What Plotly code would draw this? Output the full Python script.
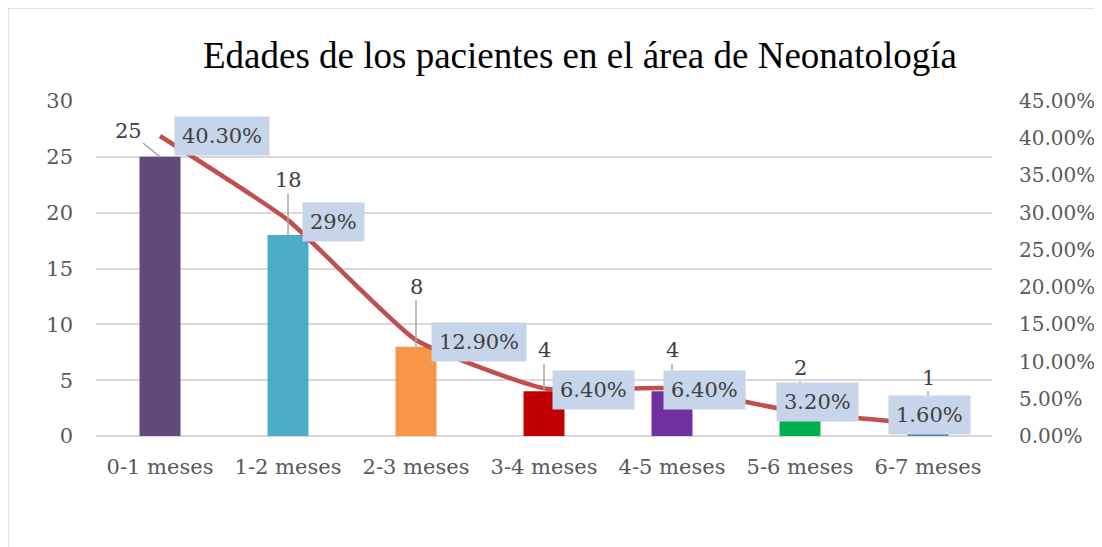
import plotly.graph_objects as go

categories = ["0-1 meses", "1-2 meses", "2-3 meses", "3-4 meses", "4-5 meses", "5-6 meses", "6-7 meses"]
counts = [25, 18, 8, 4, 4, 2, 1]
percents = [0.403, 0.29, 0.129, 0.064, 0.064, 0.032, 0.016]
percent_labels = ["40.30%", "29%", "12.90%", "6.40%", "6.40%", "3.20%", "1.60%"]
title_text = "Edades de los pacientes en el área de Neonatología"

bar_colors = ["#604A7B", "#4BACC6", "#F79646", "#C00000", "#7030A0", "#00B050", "#4F81BD"]
line_color = "#C0504D"
tick_color = "#595959"
grid_color = "#D9D9D9"
serif = "DejaVu Serif"

# figure geometry (page is offset 8px by body margin)
W, H = 1094, 539
L, T, PW, PH = 88, 93, 896, 335

# label offsets (pixels)
count_ax = [-32, 0, 0, 0, 0, 0, 0]
count_ay = [-26, -55, -60, -41, -41, -46, -47]
pct_xshift = [14, 14, 15, 8, -9, -24, -40]
pct_yshift = [0, -2, -2, -2, -2, 10, 9]

fig = go.Figure()
fig.add_trace(go.Bar(x=categories, y=counts, marker=dict(color=bar_colors, line=dict(width=0)),
                     width=0.32, yaxis="y", hoverinfo="skip"))
fig.add_trace(go.Scatter(x=categories, y=percents, mode="lines", yaxis="y2",
                         line=dict(color=line_color, width=4.5, shape="spline", smoothing=0.45),
                         hoverinfo="skip"))

annotations = []
for i, c in enumerate(categories):
    annotations.append(dict(x=c, y=counts[i], xref="x", yref="y", text=str(counts[i]),
                            showarrow=True, arrowhead=0, arrowwidth=1.5, arrowcolor="#A6A6A6",
                            ax=count_ax[i], ay=count_ay[i], standoff=0,
                            font=dict(family=serif, size=21, color="#404040")))
    annotations.append(dict(x=c, y=percents[i], xref="x", yref="y2", text=percent_labels[i],
                            showarrow=False, xanchor="left", yanchor="middle",
                            xshift=pct_xshift[i], yshift=pct_yshift[i],
                            bgcolor="#C6D5EA", borderpad=7,
                            font=dict(family=serif, size=21, color="#404040")))

bx = -L / PW
by = (T + PH) / PH
fig.update_layout(
    width=W, height=H,
    margin=dict(l=L, r=W - L - PW, t=T, b=H - T - PH),
    paper_bgcolor="white", plot_bgcolor="white",
    showlegend=False,
    title=dict(text=title_text, x=(572 - L) / PW, xref="paper", xanchor="center",
               y=1 - 47 / H, yanchor="middle",
               font=dict(family="Liberation Serif", size=37, color="black")),
    xaxis=dict(showgrid=False, showline=False, ticks="", ticklabelstandoff=16, automargin=False,
               tickfont=dict(family=serif, size=21, color=tick_color)),
    yaxis=dict(range=[0, 30], dtick=5, showgrid=True, gridcolor=grid_color, gridwidth=1.5,
               zeroline=True, zerolinecolor=grid_color, zerolinewidth=1.5, automargin=False,
               ticks="", ticklabelstandoff=22,
               tickfont=dict(family=serif, size=21, color=tick_color)),
    yaxis2=dict(range=[0, 0.45], dtick=0.05, tickformat=".2%", overlaying="y", side="right",
                showgrid=False, zeroline=False, ticks="", ticklabelstandoff=26, automargin=False,
                tickfont=dict(family=serif, size=20, color=tick_color)),
    annotations=annotations,
    shapes=[
        dict(type="line", xref="paper", yref="paper", x0=bx, x1=(W - L) / PW,
             y0=by, y1=by, line=dict(color="#D9D9D9", width=1.5)),
        dict(type="line", xref="paper", yref="paper", x0=bx, x1=bx,
             y0=by, y1=-(H - T - PH) / PH, line=dict(color="#D9D9D9", width=1.5)),
    ],
)

fig.write_html("out.html")
